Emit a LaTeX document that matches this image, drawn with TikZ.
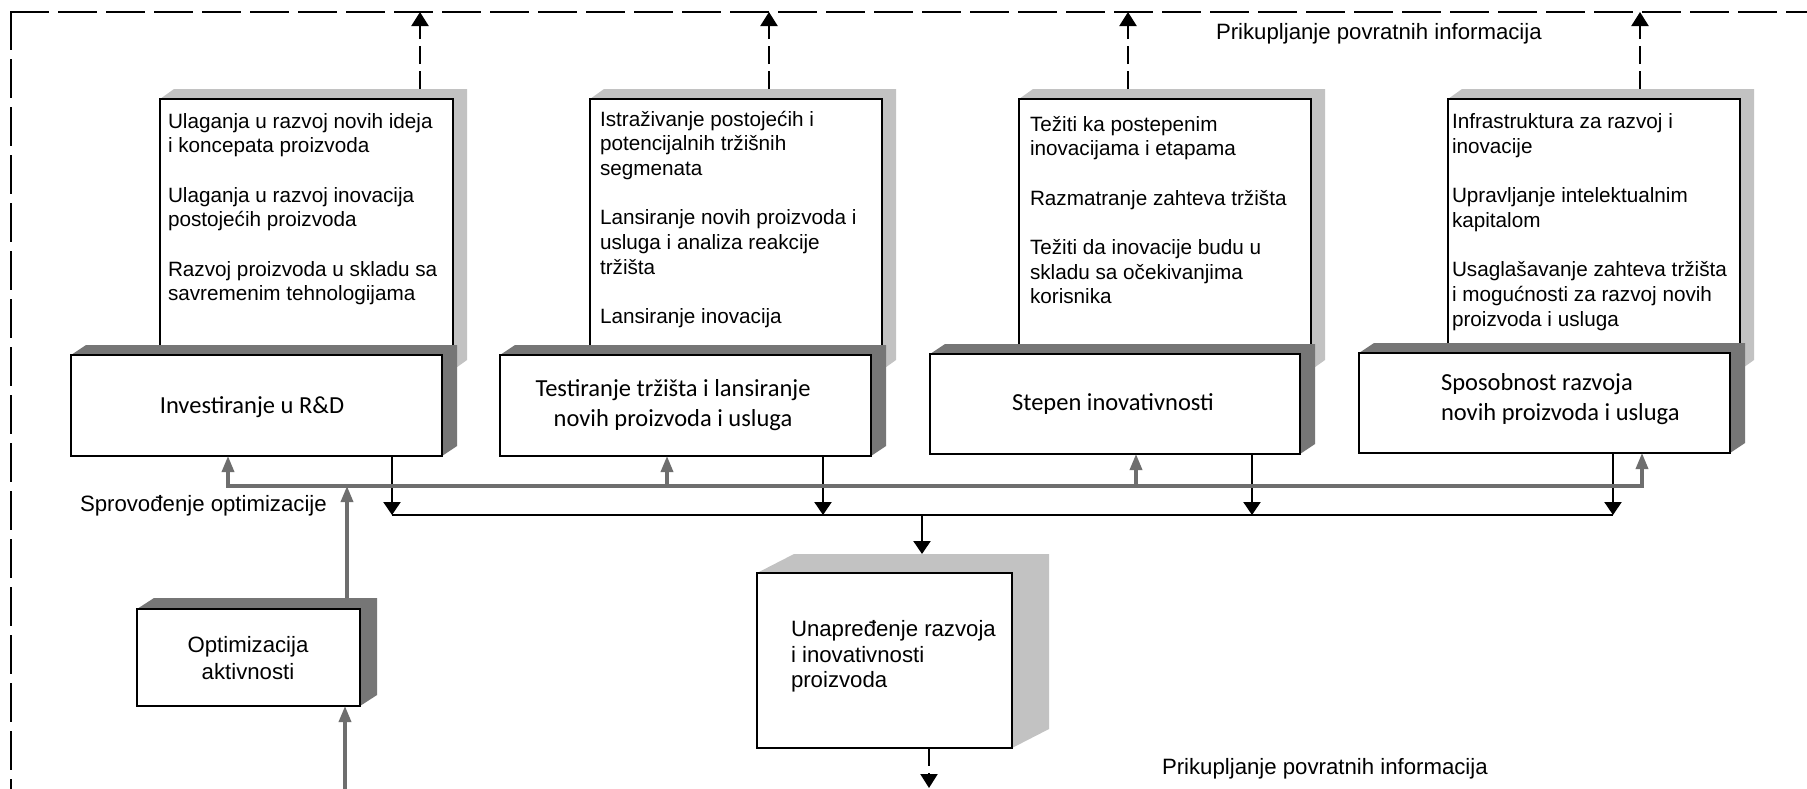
\documentclass[tikz,border=0pt]{standalone}
\usepackage{fontspec}
\setmainfont{Liberation Sans}
\newfontfamily\calibrifont{Carlito}
\usetikzlibrary{arrows.meta,calc}

\definecolor{shadedark}{RGB}{118,118,118}
\definecolor{shadelight}{RGB}{194,194,194}
\definecolor{linkgray}{RGB}{110,110,110}

\tikzset{
  frontface/.style={draw=black, line width=2.4pt, fill=white, inner sep=0pt, outer sep=0pt},
  listtext/.style={inner sep=0pt, outer sep=0pt, font=\fontsize{20.7pt}{24.7pt}\selectfont},
  labeltext/.style={inner sep=0pt, outer sep=0pt, font=\fontsize{22.2pt}{25.5pt}\selectfont},
  boxtext/.style={inner sep=0pt, outer sep=0pt, font=\fontsize{22.2pt}{26.6pt}\selectfont},
  lowtext/.style={inner sep=0pt, outer sep=0pt, font=\calibrifont\fontsize{24.5pt}{30pt}\selectfont},
  border/.style={line width=2.2pt, dash pattern=on 37pt off 11pt, line cap=rect},
  fbarrow/.style={line width=2.2pt, dash pattern=on 18pt off 7pt, -{Triangle[length=14pt,width=17pt]}},
  blackline/.style={line width=2.2pt},
  blackarrow/.style={line width=2.2pt, -{Triangle[length=13pt,width=17pt]}},
  grayarrow/.style={line width=3.4pt, draw=linkgray, -{Triangle[length=16pt,width=12pt]}},
  graybus/.style={line width=3.4pt, draw=linkgray, {Triangle[length=16pt,width=12pt]}-{Triangle[length=16pt,width=12pt]}},
}

% 3D box: shaded top and right faces, then the white front face as a named node
% #1 name, #2 x, #3 y (top-left of front), #4 width, #5 height, #6 depth x, #7 depth y, #8 shade colour
\newcommand\solidbox[8]{%
  \fill[#8] (#2,#3) -- ({#2+#6},{#3-#7}) -- ({#2+#4+#6},{#3-#7})
        -- ({#2+#4+#6},{#3+#5-#7}) -- ({#2+#4},{#3+#5}) -- cycle;
  \node[frontface, minimum width=#4pt, minimum height=#5pt, anchor=north west] (#1) at (#2,#3) {};
}

\begin{document}
\begin{tikzpicture}[x=1pt,y=-1pt]
\useasboundingbox (0,0) rectangle (1807,788);
\fill[white] (0,0) rectangle (1807,788);

% outer feedback frame
\coordinate (tl) at (11,12);
\coordinate (bl) at (11,790);
\coordinate (tr) at (1809,12);
\draw[border] (tl) -- (bl);
\draw[border] (tl) -- (tr);

% upper boxes with activity lists
\solidbox{ba}{160}{99}{293}{271}{14}{10}{shadelight}
\solidbox{bb}{590}{99}{292}{271}{14}{10}{shadelight}
\solidbox{bc}{1019}{99}{292}{271}{14}{10}{shadelight}
\solidbox{bd}{1448}{99}{292}{271}{14}{10}{shadelight}

\node[listtext, anchor=base west] (ta) at (168,128) {\parbox[t]{282pt}{\raggedright
Ulaganja u razvoj novih ideja\\
i koncepata proizvoda\\[24.7pt]
Ulaganja u razvoj inovacija\\
postojećih proizvoda\\[24.7pt]
Razvoj proizvoda u skladu sa\\
savremenim tehnologijama}};

\node[listtext, anchor=base west] (tb) at (600,126) {\parbox[t]{280pt}{\raggedright
Istraživanje postojećih i\\
potencijalnih tržišnih\\
segmenata\\[24.7pt]
Lansiranje novih proizvoda i\\
usluga i analiza reakcije\\
tržišta\\[24.7pt]
Lansiranje inovacija}};

\node[listtext, anchor=base west] (tc) at (1030,131) {\parbox[t]{278pt}{\raggedright
Težiti ka postepenim\\
inovacijama i etapama\\[24.7pt]
Razmatranje zahteva tržišta\\[24.7pt]
Težiti da inovacije budu u\\
skladu sa očekivanjima\\
korisnika}};

\node[listtext, anchor=base west] (td) at (1452,128.5) {\parbox[t]{286pt}{\raggedright
Infrastruktura za razvoj i\\
inovacije\\[24.7pt]
Upravljanje intelektualnim\\
kapitalom\\[24.7pt]
Usaglašavanje zahteva tržišta\\
i mogućnosti za razvoj novih\\
proizvoda i usluga}};

% main factor boxes
\solidbox{inv}{71}{355}{371}{101}{15}{10}{shadedark}
\solidbox{tst}{500}{355}{371}{101}{15}{10}{shadedark}
\solidbox{stp}{930}{354}{370}{100}{15}{10}{shadedark}
\solidbox{spo}{1359}{353}{371}{100}{15}{10}{shadedark}

\node[lowtext, anchor=base] (invtext) at (252,413.5) {Investiranje u R\&D};
\node[lowtext, anchor=base] (tsttext) at (673,396) {\parbox[t]{340pt}{\centering
Testiranje tržišta i lansiranje\\novih proizvoda i usluga}};
\node[lowtext, anchor=base] (stptext) at (1113,410) {Stepen inovativnosti};
\node[lowtext, anchor=base west] (spotext) at (1441,390) {\parbox[t]{280pt}{\raggedright
Sposobnost razvoja\\novih proizvoda i usluga}};

% optimisation and result boxes
\solidbox{opt}{137}{609}{223}{97}{17}{11}{shadedark}
\node[boxtext, anchor=base] (opttext) at (248,652.5) {\parbox[t]{210pt}{\centering
Optimizacija\\aktivnosti}};

\solidbox{unap}{757}{573}{255}{175}{37}{19}{shadelight}
\node[labeltext, anchor=base west] (unaptext) at (791,636.5) {\parbox[t]{215pt}{\raggedright
Unapređenje razvoja\\i inovativnosti\\proizvoda}};

% labels
\node[labeltext, anchor=base west] (fbtop) at (1216,39) {Prikupljanje povratnih informacija};
\node[labeltext, anchor=base west] (fbbot) at (1162,774) {Prikupljanje povratnih informacija};
\node[labeltext, anchor=base west] (sprov) at (80,511) {Sprovođenje optimizacije};

% feedback arrows up to the frame
\coordinate (fa) at (420,12);
\coordinate (fb) at (769,12);
\coordinate (fc) at (1128,12);
\coordinate (fd) at (1640,12);
\draw[fbarrow] ($(ba.north -| fa)+(0,-10)$) -- (fa);
\draw[fbarrow] ($(bb.north -| fb)+(0,-10)$) -- (fb);
\draw[fbarrow] ($(bc.north -| fc)+(0,-10)$) -- (fc);
\draw[fbarrow] ($(bd.north -| fd)+(0,-10)$) -- (fd);

% black collecting bus
\coordinate (k1) at (392,515);
\coordinate (k2) at (823,515);
\coordinate (k3) at (1252,515);
\coordinate (k4) at (1613,515);
\coordinate (km) at (922,515);
\draw[blackline] (k1) -- (k4);
\draw[blackarrow] (inv.south -| k1) -- (k1);
\draw[blackarrow] (tst.south -| k2) -- (k2);
\draw[blackarrow] (stp.south -| k3) -- (k3);
\draw[blackarrow] (spo.south -| k4) -- (k4);
\draw[blackarrow] (km) -- ($(unap.north -| km)+(0,-19)$);

% grey optimisation bus
\coordinate (g1) at (228,486);
\coordinate (g2) at (667,486);
\coordinate (g3) at (1136,486);
\coordinate (g4) at (1642,486);
\coordinate (gopt) at (347,486);
\coordinate (gin) at (345,790);
\draw[graybus] (inv.south -| g1) -- (g1) -- (g4) -- (spo.south -| g4);
\draw[grayarrow] (g2) -- (tst.south -| g2);
\draw[grayarrow] (g3) -- (stp.south -| g3);
\draw[grayarrow] ($(opt.north -| gopt)+(0,-11)$) -- (gopt);
\draw[grayarrow] (gin) -- (opt.south -| gin);

% feedback out of the result box
\coordinate (dout) at (929,788);
\draw[fbarrow] (unap.south -| dout) -- (dout);
\end{tikzpicture}
\end{document}
